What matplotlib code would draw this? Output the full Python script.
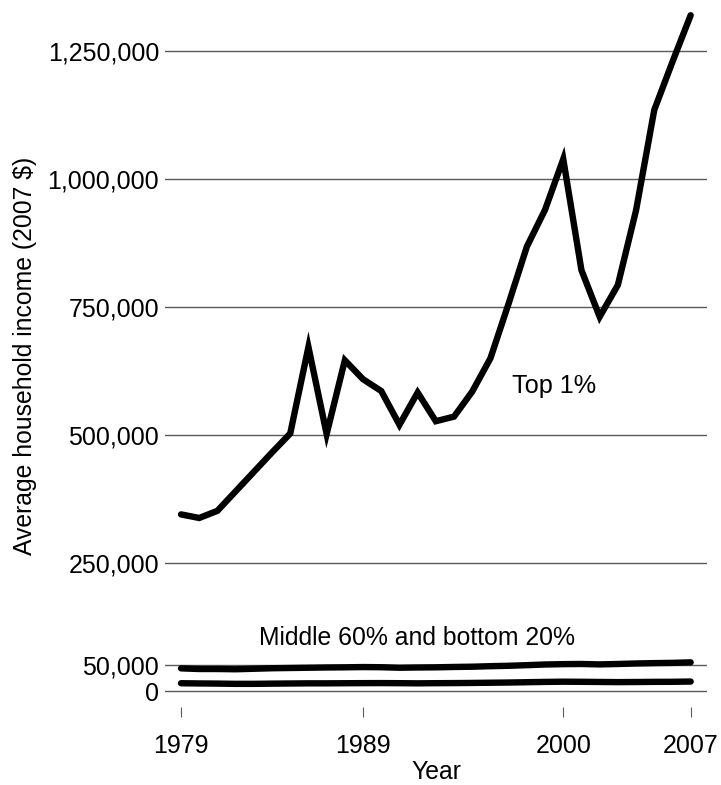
import matplotlib
matplotlib.use("Agg")
import matplotlib.pyplot as plt
from matplotlib.ticker import FuncFormatter

years = list(range(1979, 2008))
top1 = [345000, 338000, 352000, 390000, 428000, 466000, 503000, 672000, 502000,
        646000, 609000, 586000, 520000, 583000, 527000, 536000, 585000, 650000,
        757000, 868000, 940000, 1039000, 822000, 731000, 793000, 939000,
        1135000, 1229000, 1320000]
middle60 = [44300, 43000, 43000, 42500, 43500, 44500, 45000, 45500, 46000, 46300,
            46800, 46500, 45500, 46000, 46300, 47000, 47500, 48500, 49300, 50500,
            51800, 52500, 52800, 52000, 52800, 53800, 54500, 55000, 56000]
bottom20 = [15200, 14800, 14500, 14000, 14000, 14400, 14700, 15000, 15000, 15200,
            15400, 15500, 15300, 15000, 15300, 15500, 15800, 16200, 16600, 17200,
            17800, 18200, 18000, 17700, 17400, 17600, 17900, 18000, 18500]
ytick_values = [0, 50000, 250000, 500000, 750000, 1000000, 1250000]
xtick_values = [1979, 1989, 2000, 2007]

plt.rcParams['font.family'] = ['Liberation Sans', 'DejaVu Sans']

W, H = 721, 785
fig = plt.figure(figsize=(W / 100, H / 100), dpi=100)
ax_left, ax_right = 165, 706.5
ax_top, ax_bottom = 5, 698.7
ax = fig.add_axes([ax_left / W, 1 - ax_bottom / H, (ax_right - ax_left) / W, (ax_bottom - ax_top) / H])

lw = 4.6
for series in (top1, middle60, bottom20):
    ax.plot(years, series, color='black', lw=lw, solid_capstyle='round', solid_joinstyle='miter', zorder=3)

ax.set_xlim(1978.12, 2007.87)
ax.set_ylim(-15000, 1340000)

for v in ytick_values:
    ax.axhline(v, color='#5a5a5a', lw=1.0, zorder=1)

fs = 17.8
ax.set_yticks(ytick_values)
ax.yaxis.set_major_formatter(FuncFormatter(lambda v, p: f"{int(v):,}"))
ax.tick_params(axis='y', length=0, pad=4.3, labelsize=18)

ax.set_xticks(xtick_values)
ax.set_xticklabels([str(x) for x in xtick_values])
ax.tick_params(axis='x', length=7.2, width=0.8, color='#5a5a5a', pad=12, labelsize=18)

for s in ['top', 'right', 'left']:
    ax.spines[s].set_visible(False)
ax.spines['bottom'].set_position(('outward', 5.9))
ax.spines['bottom'].set_color('none')

ax.set_ylabel('Average household income (2007 $)', fontsize=fs)
ax.set_xlabel('Year', fontsize=fs)
ax.yaxis.set_label_coords((25 - ax_left) / (ax_right - ax_left), 0.5 - (356 - (ax_top + ax_bottom) / 2) / (ax_bottom - ax_top))
ax.xaxis.set_label_coords((436 - ax_left) / (ax_right - ax_left), -(772 - ax_bottom) / (ax_bottom - ax_top))
ax.xaxis.label.set_va('center')
ax.yaxis.label.set_va('center')

ax.text(1999.5, 595000, 'Top 1%', ha='center', va='center', fontsize=18.2)
ax.text(1991.95, 103000, 'Middle 60% and bottom 20%', ha='center', va='center', fontsize=fs)

fig.savefig('out.png', dpi=100, facecolor='white')
